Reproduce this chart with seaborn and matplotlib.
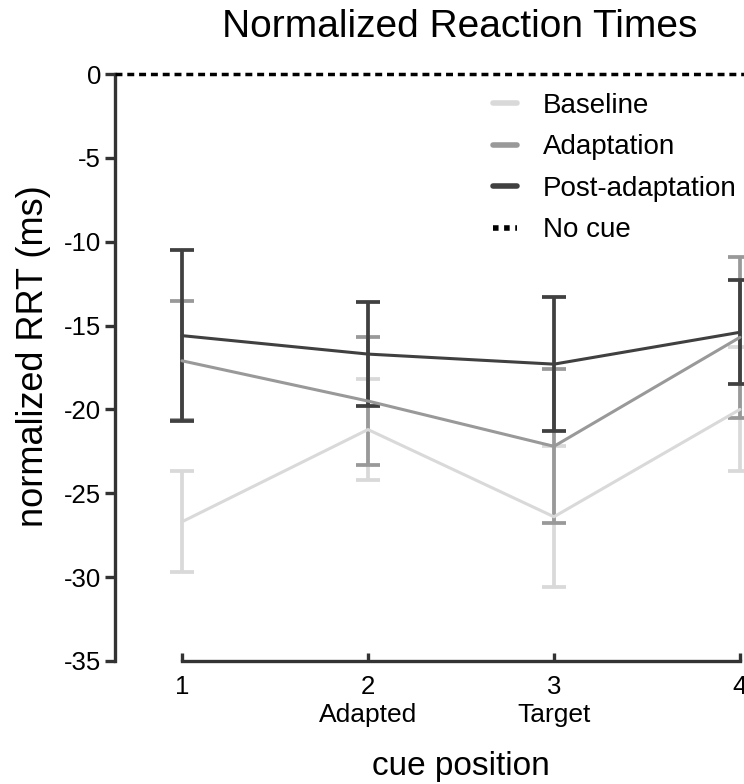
import pandas as pd
import numpy as np
import seaborn as sns
import matplotlib.pyplot as plt
from matplotlib.lines import Line2D

# values
cue = [1, 2, 3, 4]
baseline = [-26.7, -21.2, -26.4, -20.0]
baseline_err = [3.0, 3.0, 4.2, 3.7]
adaptation = [-17.1, -19.5, -22.2, -15.7]
adaptation_err = [3.55, 3.8, 4.6, 4.8]
post = [-15.6, -16.7, -17.3, -15.4]
post_err = [5.1, 3.1, 4.0, 3.1]
tick_labels = ['1', '2', '3', '4']
sub_labels = {2: 'Adapted', 3: 'Target'}

conditions = ['Baseline', 'Adaptation', 'Post-adaptation']
colors = {'Baseline': '#d9d9d9', 'Adaptation': '#999999', 'Post-adaptation': '#404040'}

df = pd.DataFrame({
    'cue': cue * 3,
    'rt': baseline + adaptation + post,
    'err': baseline_err + adaptation_err + post_err,
    'condition': [c for c in conditions for _ in cue],
})

sns.set_style('ticks')
plt.rcParams['font.family'] = ['Liberation Sans', 'DejaVu Sans']
plt.rcParams['axes.unicode_minus'] = False
plt.rcParams['text.color'] = 'black'
plt.rcParams['axes.labelcolor'] = 'black'

fig = plt.figure(figsize=(7.44, 7.84), dpi=100)
ax_w = (4.02 - 0.64) * 186
ax = fig.add_axes([115 / 744, 1 - 661 / 784, ax_w / 744, (661 - 74) / 784])

for cond in conditions:
    sub = df[df['condition'] == cond]
    ax.errorbar(sub['cue'], sub['rt'], yerr=sub['err'], fmt='none', ecolor=colors[cond],
                elinewidth=2.7, capsize=8.3, capthick=2.7, zorder=2)

sns.lineplot(data=df, x='cue', y='rt', hue='condition', palette=colors, hue_order=conditions,
             linewidth=2.2, ax=ax, legend=False, zorder=3)

ax.axhline(0, color='black', linestyle=(0, (2, 1.4)), linewidth=2.5, clip_on=False, zorder=4)

ax.set_xlim(0.64, 4.02)
ax.set_ylim(-35, 0)
ax.set_yticks(np.arange(-35, 1, 5))
ax.set_xticks(cue)
ax.set_xticklabels(tick_labels)
for x, lab in sub_labels.items():
    ax.text(x, -0.072, lab, transform=ax.get_xaxis_transform(), ha='center', va='top', fontsize=19)

sns.despine(ax=ax)
ax.spines['bottom'].set_bounds(1, 4)
for s in ['left', 'bottom']:
    ax.spines[s].set_linewidth(2.4)
    ax.spines[s].set_color('#333333')
ax.tick_params(axis='y', direction='out', length=7, width=2.4, color='#333333', labelcolor='black',
               labelsize=18.5, pad=3)
ax.tick_params(axis='x', direction='in', length=6, width=2.4, color='#333333', labelcolor='black',
               labelsize=18.5, pad=10)

ax.set_xlabel('cue position', fontsize=24)
ax.xaxis.set_label_coords(0.55, -0.153)
ax.set_ylabel('normalized RRT (ms)', fontsize=26, labelpad=9, y=0.52)
fig.text(460 / 744, 1 - 27 / 784, 'Normalized Reaction Times', ha='center', va='center', fontsize=28)

# legend
handles = [Line2D([0], [0], color=colors[c], linewidth=4) for c in conditions]
handles.append(Line2D([0], [0], color='black', linestyle=(0, (1, 1)), linewidth=4))
ax.legend(handles, conditions + ['No cue'], loc='upper left', bbox_to_anchor=(0.601, 0.968),
          frameon=False, fontsize=20, handlelength=0.86, handletextpad=0.94, labelspacing=0.56,
          borderpad=0, borderaxespad=0)

fig.savefig('out.png', dpi=100)
